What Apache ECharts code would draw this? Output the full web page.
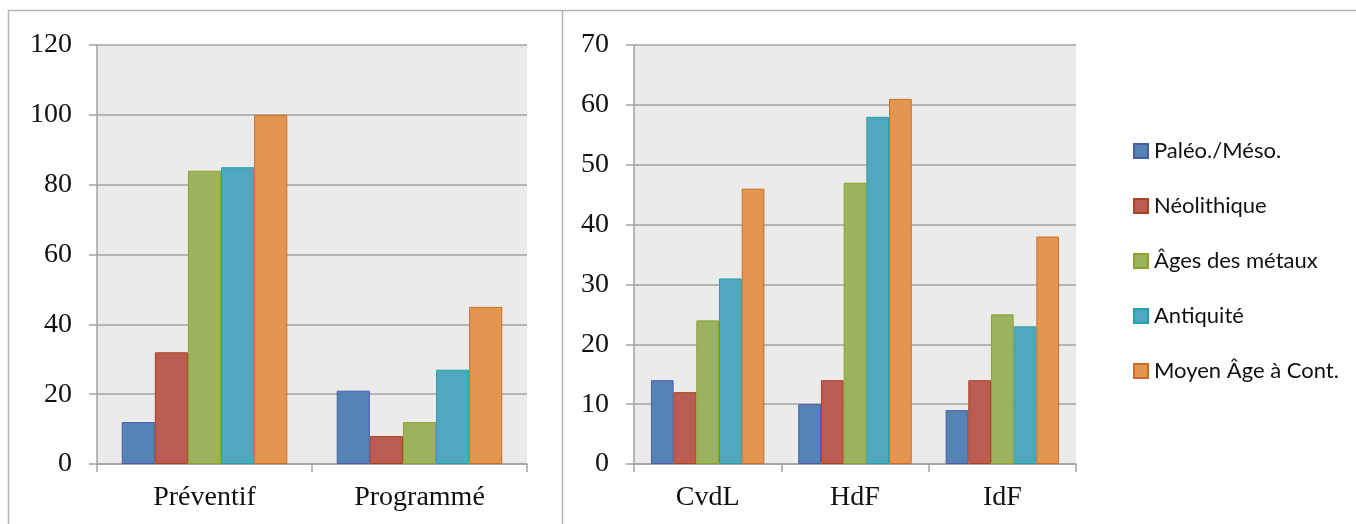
<!DOCTYPE html>
<html>
<head>
<meta charset="utf-8">
<script src="https://cdn.jsdelivr.net/npm/echarts@6/dist/echarts.min.js"></script>
<style>
  html, body { margin: 0; padding: 0; background: #fff; }
  #chart { width: 1356px; height: 524px; }
</style>
</head>
<body>
<div id="chart"></div>
<script>
// Periods (series names)
const periods = ['Paléo./Méso.', 'Néolithique', 'Âges des métaux', 'Antiquité', 'Moyen Âge à Cont.'];

// Left panel: type of operation
const typeCategories = ['Préventif', 'Programmé'];
const paleoByType   = [12, 21];
const neoByType     = [32, 8];
const metauxByType  = [84, 12];
const antiqByType   = [85, 27];
const moyenByType   = [100, 45];

// Right panel: region
const regionCategories = ['CvdL', 'HdF', 'IdF'];
const paleoByRegion  = [14, 10, 9];
const neoByRegion    = [12, 14, 14];
const metauxByRegion = [24, 47, 25];
const antiqByRegion  = [31, 58, 23];
const moyenByRegion  = [46, 61, 38];

const leftTicks  = { min: 0, max: 120, interval: 20 };
const rightTicks = { min: 0, max: 70, interval: 10 };

const fills   = ['#5683B6', '#BA5C52', '#9CB25F', '#4FA8BE', '#E3964F'];
const borders = ['#4A5CA8', '#A8441E', '#8FA02E', '#2A9FA8', '#C86E26'];

const typeSets   = [paleoByType, neoByType, metauxByType, antiqByType, moyenByType];
const regionSets = [paleoByRegion, neoByRegion, metauxByRegion, antiqByRegion, moyenByRegion];

const serif = '"Liberation Serif", "DejaVu Serif", serif';
const gridGray = '#A3A3A3';

function makeXAxis(gridIndex, cats) {
  return {
    type: 'category', gridIndex: gridIndex, data: cats,
    axisLine: { lineStyle: { color: gridGray, width: 1.5 } },
    axisTick: { show: true, length: 8, lineStyle: { color: gridGray, width: 1.5 } },
    axisLabel: { color: '#111', fontFamily: serif, fontSize: 28, margin: 20 }
  };
}
function makeYAxis(gridIndex, t) {
  return {
    type: 'value', gridIndex: gridIndex, min: t.min, max: t.max, interval: t.interval,
    axisLine: { show: true, lineStyle: { color: gridGray, width: 1.5 } },
    axisTick: { show: true, length: 8, lineStyle: { color: gridGray, width: 1.5 } },
    splitLine: { show: true, lineStyle: { color: gridGray, width: 1.5 } },
    axisLabel: { color: '#111', fontFamily: serif, fontSize: 28, margin: 25, padding: [8, 0, 0, 0] }
  };
}

const series = [];
periods.forEach((name, i) => {
  const style = { color: fills[i], borderColor: borders[i], borderWidth: 1 };
  series.push({
    name: name, type: 'bar', xAxisIndex: 0, yAxisIndex: 0,
    data: typeSets[i], itemStyle: style,
    barGap: '0%', barCategoryGap: '23%'
  });
  series.push({
    name: name, type: 'bar', xAxisIndex: 1, yAxisIndex: 1,
    data: regionSets[i], itemStyle: style,
    barGap: '0%', barCategoryGap: '23%'
  });
});

const chart = echarts.init(document.getElementById('chart'));
chart.setOption({
  animation: false,
  backgroundColor: '#fff',
  grid: [
    { left: 97, right: 829, top: 45, bottom: 60, show: true, backgroundColor: '#EBEBEB', borderWidth: 0 },
    { left: 634, right: 280, top: 45, bottom: 60, show: true, backgroundColor: '#EBEBEB', borderWidth: 0 }
  ],
  xAxis: [makeXAxis(0, typeCategories), makeXAxis(1, regionCategories)],
  yAxis: [makeYAxis(0, leftTicks), makeYAxis(1, rightTicks)],
  legend: {
    orient: 'vertical', left: 1128, top: 135,
    itemWidth: 14, itemHeight: 14, itemGap: 33,
    icon: 'rect',
    data: periods,
    textStyle: { fontFamily: 'Lato, "Open Sans", sans-serif', fontSize: 22, color: '#111', padding: [0, 0, 0, 1] }
  },
  graphic: [
    { type: 'line', shape: { x1: 8, y1: 10.5, x2: 1356, y2: 10.5 }, style: { stroke: '#B4B4B4', lineWidth: 1.5 }, silent: true },
    { type: 'line', shape: { x1: 8.5, y1: 10, x2: 8.5, y2: 524 }, style: { stroke: '#B4B4B4', lineWidth: 1.5 }, silent: true },
    { type: 'line', shape: { x1: 562.5, y1: 10, x2: 562.5, y2: 524 }, style: { stroke: '#B4B4B4', lineWidth: 1.5 }, silent: true }
  ],
  series: series
});
</script>
</body>
</html>
